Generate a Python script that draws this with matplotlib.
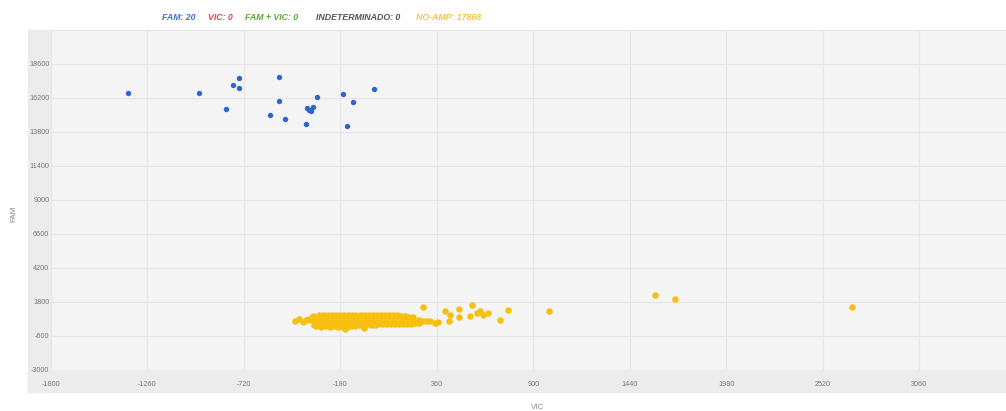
import numpy as np
import matplotlib
matplotlib.use("Agg")
from matplotlib import pyplot as plt
from matplotlib.patches import Rectangle

plt.rcParams['axes.unicode_minus'] = False

# FAM cluster (20 wells)
fam_x = [-1367, -970, -819, -780, -747, -747, -573, -523, -523, -489,
         -372, -366, -355, -344, -333, -310, -165, -142, -109, 8]
fam_y = [16547, 16547, 15414, 17113, 17609, 16901, 14989, 17680, 15980, 14706,
         14352, 15485, 15343, 15272, 15556, 16264, 16476, 14210, 15910, 16830]

# NO-AMP dense band
noamp_top_x = [-330, -300, -275, -250, -228, -205, -180, -160, -135, -112, -90, -66,
               -44, -20, 4, 26, 48, 70, 93, 115, 138, 160, 182, 205, 228]
noamp_top_y = [800, 860, 830, 880, 850, 870, 880, 850, 870, 860, 880, 850,
               870, 860, 840, 870, 850, 860, 840, 830, 820, 790, 760, 730, 700]
noamp_mid_x = [-345, -320, -298, -276, -254, -232, -210, -188, -165, -143, -120, -98,
               -76, -53, -31, -9, 14, 36, 58, 81, 103, 126, 148, 170, 193, 215,
               238, 260, 282, 305, 325]
noamp_mid_y = [520, 480, 500, 470, 510, 490, 480, 500, 470, 490, 500, 480,
               470, 490, 480, 500, 470, 480, 490, 470, 480, 470, 490, 460, 480, 470,
               460, 470, 450, 460, 440]
noamp_low_x = [-325, -300, -277, -254, -232, -210, -187, -165, -142, -120, -97, -75,
               -52, -30, -8, 15, 37, 60, 82, 104, 127, 150, 172, 195, 218, 240, 262]
noamp_low_y = [180, 150, 170, 130, 160, 140, 150, 170, 140, 160, 180, 150,
               170, 190, 160, 180, 200, 190, 210, 200, 220, 230, 220, 250, 240, 270, 280]
noamp_base_x = [-315, -290, -262, -238, -214, -190, -166, -142, -118, -95]
noamp_base_y = [40, 20, 50, 10, 40, 30, 0, 20, 50, 60]
noamp_tail_x = [-433, -410, -390, -370, -352, -154, -45]
noamp_tail_y = [420, 540, 360, 470, 600, -160, -90]
noamp_out_x = [283, 406, 434, 429, 485, 485, 547, 558, 586, 603, 617, 645,
               712, 757, 988, 1581, 1693, 2683, 350, 367]
noamp_out_y = [1408, 1125, 842, 417, 1266, 700, 771, 1549, 983, 1125, 842, 983,
               488, 1195, 1125, 2257, 1974, 1408, 276, 346]

x_ticks = [-1800, -1260, -720, -180, 360, 900, 1440, 1980, 2520, 3060]
y_ticks = [-3000, -600, 1800, 4200, 6600, 9000, 11400, 13800, 16200, 18600]

legend_items = [("FAM: 20", "#3d6fd3"), ("VIC: 0", "#e6414e"),
                ("FAM + VIC: 0", "#5ea532"), ("INDETERMINADO: 0", "#555555"),
                ("NO-AMP: 17868", "#f6c344")]
legend_px = [162, 208, 245, 316, 416]

W, H = 1006, 411
fig = plt.figure(figsize=(W / 100, H / 100), dpi=100)
fig.patch.set_facecolor("white")

band = "#ececec"
fig.patches.append(Rectangle((28 / W, 1 - 392 / H), (50.7 - 28) / W, (392 - 30) / H,
                             transform=fig.transFigure, color=band, zorder=-5))
fig.patches.append(Rectangle((28 / W, 1 - 392 / H), (W - 28) / W, (392 - 369.5) / H,
                             transform=fig.transFigure, color=band, zorder=-5))

ax = fig.add_axes([50.7 / W, 1 - 369.5 / H, (W - 50.7) / W, (369.5 - 30) / H])
ax.set_zorder(2)
ax.set_facecolor("#f4f4f4")
ax.set_xlim(-1800, 3545)
ax.set_ylim(-3000, 21000)
ax.set_xticks(x_ticks)
ax.set_yticks(y_ticks)
ax.grid(True, color="#e6e6e6", linewidth=0.9)
ax.set_axisbelow(True)
for s in ax.spines.values():
    s.set_visible(False)
ax.axhline(21000, color="#e0e0e0", linewidth=1.2)
ax.tick_params(length=0, labelsize=5.2, colors="#777777")
ax.tick_params(axis="x", pad=8.5)
ax.tick_params(axis="y", pad=1)
for lbl in ax.get_xticklabels() + ax.get_yticklabels():
    lbl.set_family("Liberation Sans")

yellow = "#f7bf10"
nx = noamp_top_x + noamp_mid_x + noamp_low_x + noamp_base_x + noamp_tail_x + noamp_out_x
ny = noamp_top_y + noamp_mid_y + noamp_low_y + noamp_base_y + noamp_tail_y + noamp_out_y
ax.scatter(nx, ny, s=22, color=yellow, linewidths=0, zorder=3)
ax.scatter(fam_x, fam_y, s=15, color="#2d65cf", linewidths=0, zorder=4)

fig.text(14 / W, 1 - 214 / H, "FAM", rotation=90, ha="center", va="center",
         fontsize=5.8, color="#888888", family="Liberation Sans")
fig.text(538 / W, 1 - 407 / H, "VIC", ha="center", va="center",
         fontsize=5.8, color="#888888", family="Liberation Sans")

for (label, col), px in zip(legend_items, legend_px):
    fig.text(px / W, 1 - 17 / H, label, ha="left", va="center", fontsize=6.3,
             color=col, fontweight="bold", fontstyle="italic",
             family="Liberation Sans")

fig.savefig("out.png", dpi=100)
